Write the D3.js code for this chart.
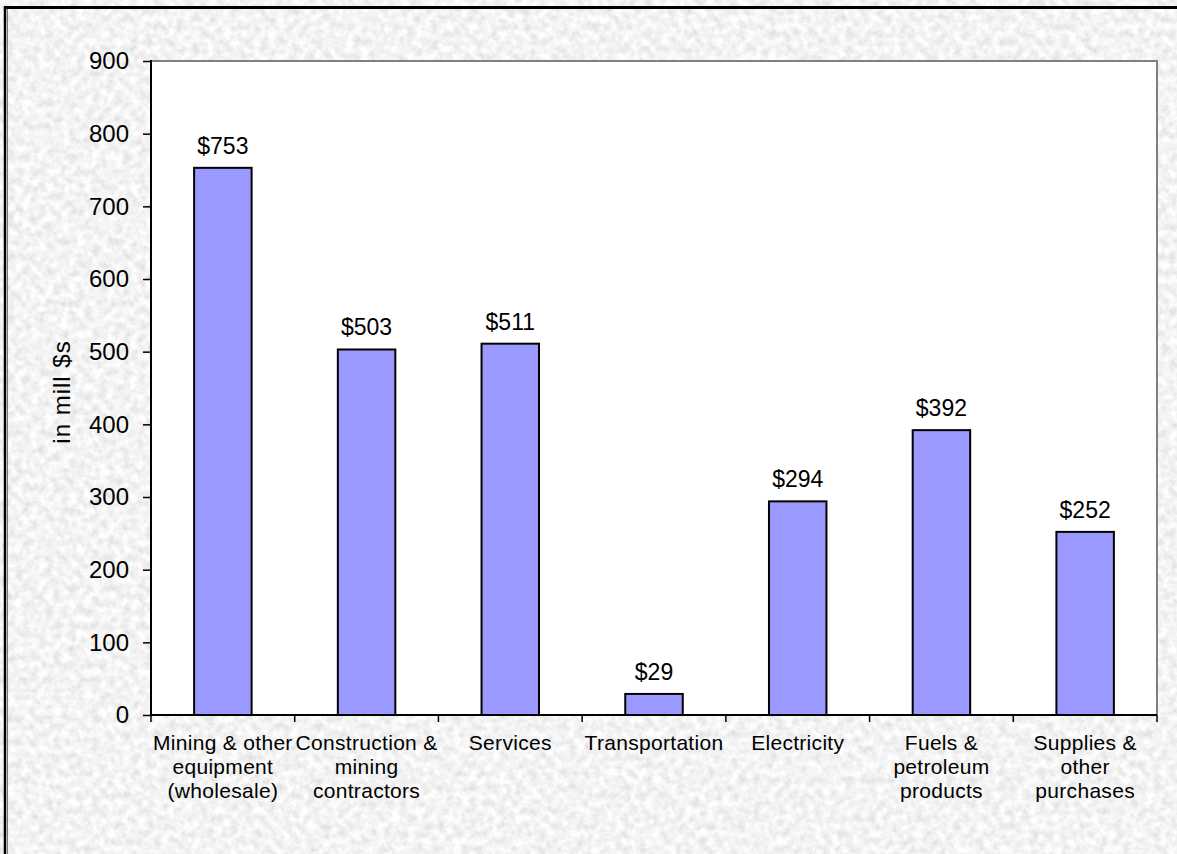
<!DOCTYPE html>
<html><head><meta charset="utf-8">
<script src="https://cdn.jsdelivr.net/npm/d3@7"></script>
<style>
html,body{margin:0;padding:0;background:#e6e6e6;}
svg{display:block;}
text{font-family:"Liberation Sans",Arial,sans-serif;fill:#000;}
</style></head>
<body>
<svg id="chart" width="1177" height="854"></svg>
<script>
const categories = [
  ["Mining & other","equipment","(wholesale)"],
  ["Construction &","mining","contractors"],
  ["Services"],
  ["Transportation"],
  ["Electricity"],
  ["Fuels &","petroleum","products"],
  ["Supplies &","other","purchases"]
];
const values = [753, 503, 511, 29, 294, 392, 252];
const valueLabels = ["$753","$503","$511","$29","$294","$392","$252"];
const yTicks = [0,100,200,300,400,500,600,700,800,900];
const yTitle = "in mill $s";

const W = 1177, H = 854;
const m = {left:151, right:1157, top:61, bottom:715};
const svg = d3.select("#chart");

const defs = svg.append("defs");
const f = defs.append("filter").attr("id","marble").attr("x",0).attr("y",0).attr("width","100%").attr("height","100%");
f.append("feTurbulence").attr("type","fractalNoise").attr("baseFrequency","0.13").attr("numOctaves",3).attr("seed",7);
f.append("feColorMatrix").attr("type","matrix")
  .attr("values","0.42 0 0 0 0.69  0.42 0 0 0 0.69  0.42 0 0 0 0.69  0 0 0 0 1");

svg.append("rect").attr("width",W).attr("height",H).attr("fill","#e6e6e6");
svg.append("rect").attr("width",W).attr("height",H).attr("filter","url(#marble)");

// outer frame
svg.append("line").attr("x1",4).attr("x2",W).attr("y1",7.5).attr("y2",7.5).attr("stroke","#000").attr("stroke-width",3);
svg.append("line").attr("x1",5).attr("x2",5).attr("y1",6).attr("y2",H).attr("stroke","#000").attr("stroke-width",2.5);
svg.append("line").attr("x1",7.5).attr("x2",7.5).attr("y1",9).attr("y2",H).attr("stroke","#777").attr("stroke-width",1);

const x = d3.scaleBand().domain(d3.range(categories.length)).range([m.left,m.right]).paddingInner(0.6).paddingOuter(0.3);
const xb = d3.scaleBand().domain(d3.range(categories.length)).range([m.left,m.right]).padding(0);
const y = d3.scaleLinear().domain([0,900]).range([m.bottom,m.top]);

// plot area
svg.append("rect").attr("x",m.left).attr("y",m.top).attr("width",m.right-m.left).attr("height",m.bottom-m.top)
  .attr("fill","#fff");
svg.append("path").attr("d",`M${m.left},${m.top}H${m.right}V${m.bottom}`).attr("fill","none").attr("stroke","#808080").attr("stroke-width",2);

// bars
svg.selectAll("rect.bar").data(values).join("rect").attr("class","bar")
  .attr("x",(d,i)=>x(i)).attr("width",x.bandwidth())
  .attr("y",d=>y(d)).attr("height",d=>y(0)-y(d))
  .attr("fill","#9999ff").attr("stroke","#000").attr("stroke-width",2);

// value labels
svg.selectAll("text.val").data(values).join("text").attr("class","val")
  .attr("x",(d,i)=>x(i)+x.bandwidth()/2).attr("y",d=>y(d)-14)
  .attr("text-anchor","middle").attr("font-size",23).text((d,i)=>valueLabels[i]);

// y axis
const ya = svg.append("g").attr("transform",`translate(${m.left},0)`)
  .call(d3.axisLeft(y).tickValues(yTicks).tickSize(8).tickPadding(14).tickFormat(d3.format("d")));
ya.select(".domain").attr("stroke","#000").attr("stroke-width",2).attr("d",`M0,${m.top-1}V${m.bottom}`);
ya.selectAll(".tick line").attr("stroke","#000").attr("stroke-width",1.5);
ya.selectAll(".tick text").attr("font-size",24).attr("font-family","Liberation Sans, Arial, sans-serif").attr("fill","#000");

// x axis
const xa = svg.append("g").attr("transform",`translate(0,${m.bottom})`);
xa.append("line").attr("x1",m.left).attr("x2",m.right).attr("stroke","#000").attr("stroke-width",2);
const bounds = d3.range(categories.length+1).map(i => i<categories.length ? xb(i) : m.right);
xa.selectAll("line.tk").data(bounds).join("line").attr("class","tk")
  .attr("x1",d=>d).attr("x2",d=>d).attr("y1",0).attr("y2",7).attr("stroke","#000").attr("stroke-width",1.5);
const cl = xa.selectAll("text.cat").data(categories).join("text").attr("class","cat")
  .attr("text-anchor","middle").attr("font-size",21).attr("letter-spacing","0.3px")
  .attr("transform",(d,i)=>`translate(${xb(i)+xb.bandwidth()/2},35)`);
cl.selectAll("tspan").data(d=>d).join("tspan").attr("x",0).attr("dy",(d,j)=>j===0?0:24).text(d=>d);

// y title
svg.append("text").attr("transform",`translate(70,392) rotate(-90)`).attr("text-anchor","middle")
  .attr("font-size",24).attr("letter-spacing","1px").text(yTitle);
</script>
</body></html>
